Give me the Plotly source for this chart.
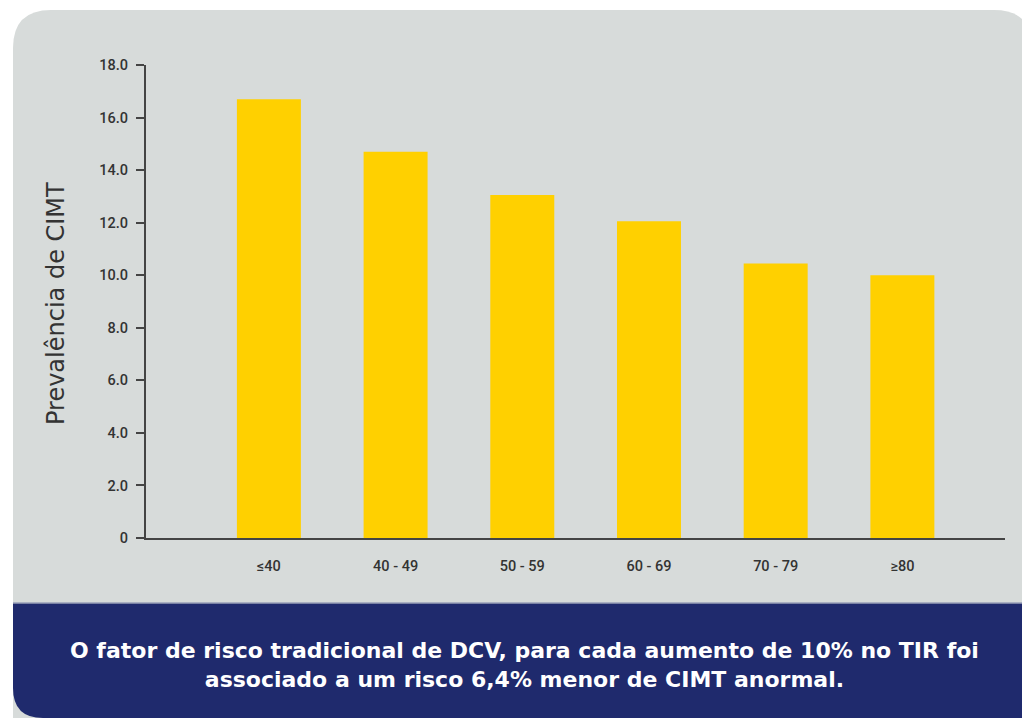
import plotly.graph_objects as go

categories = ["≤40", "40 - 49", "50 - 59", "60 - 69", "70 - 79", "≥80"]
prevalence = [16.7, 14.7, 13.05, 12.05, 10.45, 10.0]
y_tick_vals = [0, 2, 4, 6, 8, 10, 12, 14, 16, 18]
y_tick_text = ["0", "2.0", "4.0", "6.0", "8.0", "10.0", "12.0", "14.0", "16.0", "18.0"]
y_title = "Prevalência de CIMT"
footer_text = ("O fator de risco tradicional de DCV, para cada aumento de 10% no TIR foi<br>"
               "associado a um risco 6,4% menor de CIMT anormal.")

OFF = 8  # page body margin
W, H = 1030 - OFF, 718 - OFF
L, R, T, B = 146 - OFF, 25, 65 - OFF, 180
pw, ph = W - L - R, H - T - B

def px(x):
    return (x - OFF - L) / pw

def py(y):
    return (H - B - (y - OFF)) / ph

fig = go.Figure(go.Bar(
    x=categories, y=prevalence, marker_color="#ffd000",
    marker_line_width=0, width=0.505,
))

# gray rounded panel
r = 38
x0, x1, y0, y1 = 13, 1032, 10, 720
panel = (f"M {px(x0)},{py(y0 + r)} Q {px(x0)},{py(y0)} {px(x0 + r)},{py(y0)} "
         f"L {px(x1 - r)},{py(y0)} Q {px(x1)},{py(y0)} {px(x1)},{py(y0 + r)} "
         f"L {px(x1)},{py(y1)} L {px(x0)},{py(y1)} Z")
# navy band
nb0, nb1 = 603, 718
r2 = 30
band = (f"M {px(x0)},{py(nb0)} L {px(x1)},{py(nb0)} L {px(x1)},{py(nb1)} "
        f"L {px(x0 + r2)},{py(nb1)} Q {px(x0)},{py(nb1)} {px(x0)},{py(nb1 - r2)} Z")

tick_font = dict(size=14.5, color="#333333", family="Roboto, DejaVu Sans, sans-serif", weight=500)

fig.update_layout(
    width=W, height=H,
    margin=dict(l=L, r=R, t=T, b=B),
    paper_bgcolor="white", plot_bgcolor="rgba(0,0,0,0)",
    showlegend=False,
    font=dict(family="DejaVu Sans, sans-serif", color="#333333"),
    shapes=[
        dict(type="path", path=panel, xref="paper", yref="paper",
             fillcolor="#d7dbda", line_width=0, layer="below"),
        dict(type="path", path=band, xref="paper", yref="paper",
             fillcolor="#1f2a6d", line_width=0, layer="below"),
        dict(type="line", xref="paper", yref="paper", x0=px(x0), x1=px(x1),
             y0=py(nb0), y1=py(nb0), line=dict(color="#9aa0b8", width=1.5)),
    ],
    annotations=[
        dict(text=y_title, xref="paper", yref="paper", x=px(56), y=py(304),
             xanchor="center", yanchor="middle",
             textangle=-90, showarrow=False,
             font=dict(size=24, color="#333333", family="DejaVu Sans, sans-serif")),
        dict(text="<b>" + footer_text + "</b>", xref="paper", yref="paper",
             x=px(524), y=py(665), xanchor="center", yanchor="middle",
             showarrow=False, align="center",
             font=dict(size=22, color="white", family="DejaVu Sans, sans-serif")),
    ],
)

fig.update_xaxes(
    range=[-0.97, 5.81], showline=True, linecolor="#444444", linewidth=2,
    ticks="", showgrid=False, zeroline=False,
    tickfont=tick_font, ticklabelstandoff=14,
)
fig.update_yaxes(
    range=[0, 18], tickvals=y_tick_vals, ticktext=y_tick_text,
    showline=True, linecolor="#444444", linewidth=2,
    ticks="outside", ticklen=8, tickwidth=2, tickcolor="#444444",
    showgrid=False, zeroline=False,
    tickfont=tick_font, ticklabelstandoff=5,
)

fig.write_html("out.html")
